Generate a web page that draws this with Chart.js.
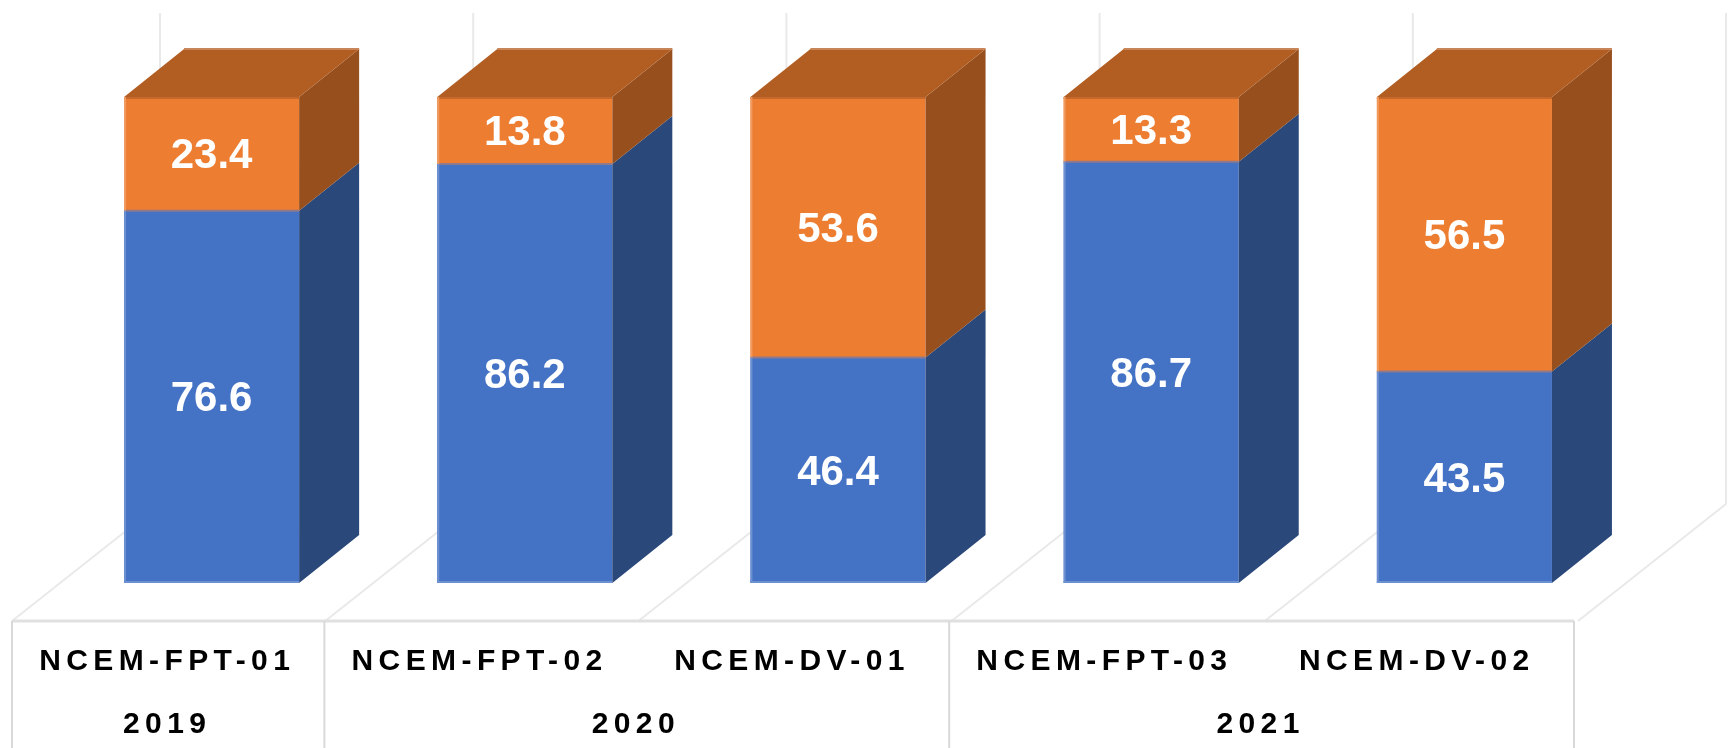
<!DOCTYPE html>
<html>
<head>
<meta charset="utf-8">
<title>NCEM</title>
<style>
  html, body { margin: 0; padding: 0; background: #fff; overflow: hidden; }
  canvas { display: block; }
</style>
<script src="https://cdn.jsdelivr.net/npm/chart.js@4"></script>
</head>
<body>
<canvas id="chart" width="1729" height="748"></canvas>
<script>
const categories = ['NCEM-FPT-01', 'NCEM-FPT-02', 'NCEM-DV-01', 'NCEM-FPT-03', 'NCEM-DV-02'];
const years = ['2019', '2020', '2021'];
const yearSpans = [1, 2, 2];
const blueValues = [76.6, 86.2, 46.4, 86.7, 43.5];
const orangeValues = [23.4, 13.8, 53.6, 13.3, 56.5];

// depth of the fake 3D projection
const depthX = 60;
const depthY = 48;
const shiftX = 43;   // front edge of the floor sits left of the bars
const tableTop = 621;
const tableStep = 312.4;

function poly(ctx, pts, color) {
    ctx.fillStyle = color;
    ctx.beginPath();
    pts.forEach((p, i) => i ? ctx.lineTo(p[0], p[1]) : ctx.moveTo(p[0], p[1]));
    ctx.closePath();
    ctx.fill();
}

function seam(ctx, x1, y1, x2, y2, color) {
    ctx.strokeStyle = color;
    ctx.beginPath();
    ctx.moveTo(x1, y1);
    ctx.lineTo(x2, y2);
    ctx.stroke();
}

const wallAndFloor = {
    id: 'wallAndFloor',
    beforeDatasetsDraw(chart) {
        const ctx = chart.ctx;
        const xs = chart.scales.x;
        const step = xs.getPixelForValue(1) - xs.getPixelForValue(0);
        ctx.save();
        ctx.lineWidth = 2;
        for (let i = 0; i <= categories.length; i++) {
            const fx = xs.getPixelForValue(0) - step / 2 - shiftX + i * step;
            const bx = fx + 148;
            ctx.strokeStyle = '#e9e9e9';
            ctx.beginPath();
            ctx.moveTo(fx, tableTop);
            ctx.lineTo(bx, tableTop - 117);
            ctx.moveTo(bx, tableTop - 117);
            ctx.lineTo(bx, 13);
            ctx.stroke();
        }
        ctx.restore();
    }
};

const boxSides = {
    id: 'boxSides',
    afterDatasetsDraw(chart) {
        const ctx = chart.ctx;
        const low = chart.getDatasetMeta(0).data;
        const high = chart.getDatasetMeta(1).data;
        ctx.save();
        categories.forEach((c, i) => {
            const half = low[i].width / 2;
            const r = low[i].x + half;
            const l = low[i].x - half;
            const y0 = low[i].base;
            const y1 = low[i].y;
            const y2 = high[i].y;
            poly(ctx, [[r, y0], [r + depthX, y0 - depthY], [r + depthX, y1 - depthY], [r, y1]], '#2a4879');
            poly(ctx, [[r, y1], [r + depthX, y1 - depthY], [r + depthX, y2 - depthY], [r, y2]], '#974f1e');
            poly(ctx, [[l, y2], [l + depthX, y2 - depthY], [r + depthX, y2 - depthY], [r, y2]], '#b25e23');

            // thin lighter seams along the box edges
            ctx.lineWidth = 2;
            seam(ctx, l, y2 + 1, r, y2 + 1, '#c4682c');
            seam(ctx, l, y1, r, y1, '#8f7a8c');
            seam(ctx, l + depthX, y2 - depthY, r + depthX, y2 - depthY, '#c8855a');
            seam(ctx, l + 1, y2, l + 1, y1, '#f09a5f');
            seam(ctx, l + 1, y1, l + 1, y0, '#6c90d0');
            seam(ctx, l, y0 - 1, r, y0 - 1, '#6c90d0');
        });

        // values inside the segments
        ctx.fillStyle = '#fff';
        ctx.font = 'bold 42px "Liberation Sans"';
        ctx.textAlign = 'center';
        ctx.textBaseline = 'middle';
        categories.forEach((c, i) => {
            ctx.fillText(blueValues[i].toFixed(1), low[i].x, (low[i].y + low[i].base) / 2 + 3);
            ctx.fillText(orangeValues[i].toFixed(1), high[i].x, (high[i].y + low[i].y) / 2 + 3);
        });
        ctx.restore();
    }
};

const axisTable = {
    id: 'axisTable',
    afterDraw(chart) {
        const ctx = chart.ctx;
        const xs = chart.scales.x;
        const step = xs.getPixelForValue(1) - xs.getPixelForValue(0);
        const left = xs.getPixelForValue(0) - step / 2 - shiftX;
        ctx.save();
        ctx.strokeStyle = '#e0e0e0';
        ctx.lineWidth = 3;
        ctx.beginPath();
        ctx.moveTo(left, tableTop);
        ctx.lineTo(left + tableStep * categories.length, tableTop);
        ctx.stroke();

        ctx.fillStyle = '#000';
        ctx.textAlign = 'center';
        ctx.textBaseline = 'middle';
        ctx.font = 'bold 30px "Liberation Sans"';
        ctx.letterSpacing = '5.4px';
        categories.forEach((c, i) => {
            ctx.fillText(c, left + tableStep * (i + 0.5) - 1, 662);
        });

        let n = 0;
        ctx.strokeStyle = '#d9d9d9';
        ctx.lineWidth = 2;
        const vline = x => {
            ctx.beginPath();
            ctx.moveTo(x, tableTop);
            ctx.lineTo(x, 748);
            ctx.stroke();
        };
        vline(left);
        years.forEach((y, i) => {
            const start = left + n * tableStep;
            n += yearSpans[i];
            const end = left + n * tableStep;
            vline(end);
            ctx.fillText(y, (start + end) / 2 - 1, 725);
        });
        ctx.restore();
    }
};

new Chart(document.getElementById('chart').getContext('2d'), {
    type: 'bar',
    data: {
        labels: categories,
        datasets: [
            { label: 'A', data: blueValues, backgroundColor: '#4472c4' },
            { label: 'B', data: orangeValues, backgroundColor: '#ed7d31' }
        ]
    },
    options: {
        responsive: false,
        animation: false,
        categoryPercentage: 1,
        barPercentage: 0.559,
        layout: { padding: { left: 55, right: 108, top: 97, bottom: 165 } },
        plugins: { legend: { display: false }, tooltip: { enabled: false } },
        scales: {
            x: { stacked: true, display: false },
            y: { stacked: true, display: false, min: 0, max: 100 }
        }
    },
    plugins: [wallAndFloor, boxSides, axisTable]
});
</script>
</body>
</html>
